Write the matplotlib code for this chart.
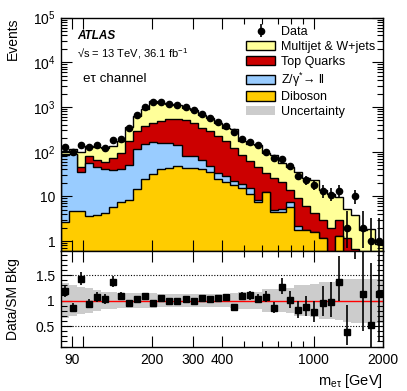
import math
import numpy as np
import matplotlib
matplotlib.use('Agg')
import matplotlib.pyplot as plt
from matplotlib.ticker import FixedLocator, FixedFormatter, NullFormatter

plt.rcParams['font.family'] = ['Liberation Sans', 'DejaVu Sans']
plt.rcParams['mathtext.fontset'] = 'custom'
plt.rcParams['mathtext.rm'] = 'Liberation Sans'
plt.rcParams['mathtext.it'] = 'Liberation Sans:italic'
plt.rcParams['mathtext.bf'] = 'Liberation Sans:bold'

# 40 log bins in m_etau [GeV]
edges = np.logspace(np.log10(80), np.log10(2000), 41)

data = [125, 100, 142, 128, 138, 124, 183, 190, 341, 650,
        990, 1270, 1290, 1190, 1110, 1000, 840, 690, 572, 460,
        370, 278, 190, 162, 144, 100, 72, 70, 47, 29,
        23, 18, 13, 11, 13, 2, 10, 2, 1, 1]

diboson = [2.7, 4.6, 4.8, 3.7, 3.8, 4.2, 5.9, 7.4, 8.5, 15,
           25, 31, 41, 44, 47, 43, 43, 40, 35, 25,
           21, 18, 15.3, 11.2, 7.4, 12.8, 4.5, 4.5, 5.8, 1.8,
           1.8, 1.6, 1.2, 0, 1.3, 0, 0, 0, 0, 0]
zll = [83.3, 83.4, 31.2, 52.3, 42.2, 37.8, 32.1, 34.6, 42.5, 100,
       125, 132, 119, 114, 93, 36, 36, 24, 14, 8,
       7, 4.6, 3.7, 4.3, 1.1, 0, 0.5, 0.7, 1.7, 0.4,
       0, 0, 0, 0, 0, 0, 0, 0, 0, 0]
top = [2, 2, 10, 23, 20, 18, 35, 52, 121, 172,
       222, 277, 330, 372, 400, 421, 366, 279, 238, 189,
       143, 99.4, 67, 45.5, 36.5, 21.2, 21, 16.3, 6.7, 7.1,
       4.2, 2.7, 1.8, 2.0, 1.7, 1.18, 0.65, 0, 0, 0]
multijet = [18, 26, 54, 57, 63, 60, 61, 82, 183, 344,
            536, 897, 739, 660, 570, 471, 395, 314, 268, 220,
            172, 198, 88, 86, 95, 59, 58, 33.5, 32.3, 26.7,
            20.4, 19.1, 10.7, 9.3, 6.5, 3.92, 3.15, 1.77, 1.9, 0.88]
# relative background uncertainty
bkg_unc = [0.34, 0.31, 0.27, 0.24, 0.20, 0.17, 0.16, 0.15, 0.14, 0.14,
           0.14, 0.14, 0.13, 0.12, 0.12, 0.12, 0.12, 0.12, 0.12, 0.13,
           0.13, 0.15, 0.16, 0.16, 0.17, 0.22, 0.22, 0.22, 0.24, 0.30,
           0.30, 0.32, 0.36, 0.36, 0.38, 0.42, 0.43, 0.43, 0.43, 0.43]

labels = ['Diboson', 'Z/γ$^{*}$→ ll', 'Top Quarks', 'Multijet & W+jets']
colors = ['#ffcc00', '#99ccff', '#cc0000', '#ffff99']


def pois_cdf(k, mu):
    return sum(math.exp(-mu + i * math.log(mu) - math.lgamma(i + 1)) for i in range(k + 1))


def solve(f, target, lo, hi):
    # f decreasing in mu
    for _ in range(80):
        mid = 0.5 * (lo + hi)
        if f(mid) > target:
            lo = mid
        else:
            hi = mid
    return 0.5 * (lo + hi)


def garwood(n):
    a = 0.158655
    up = solve(lambda m: pois_cdf(n, m), a, 1e-6, n + 10 * math.sqrt(n + 1) + 10)
    if n == 0:
        return 0.0, up
    lo = solve(lambda m: pois_cdf(n - 1, m), 1 - a, 1e-6, n + 10)
    return n - lo, up - n


stack = np.cumsum([diboson, zll, top, multijet], axis=0)
total = stack[-1]
d = np.array(data, dtype=float)
centers = np.sqrt(edges[:-1] * edges[1:])
errs = np.array([garwood(int(n)) for n in data]).T

fig = plt.figure(figsize=(4.07, 3.91), dpi=100)
ax = fig.add_axes([0.149, 0.358, 0.792, 0.597])
rax = fig.add_axes([0.149, 0.1125, 0.792, 0.2455])

for i in range(3, -1, -1):
    ax.stairs(np.maximum(stack[i], 1e-3), edges, baseline=1e-3, fill=True,
              facecolor=colors[i], edgecolor='k', lw=1.0, label=labels[i])
hdata = ax.errorbar(centers, d, yerr=errs, fmt='o', color='k', ms=4.5,
                    elinewidth=1.2, capsize=0, label='Data')
ax.fill_between([], [], color='#cccccc', lw=0, label='Uncertainty')

ax.set_xscale('log')
ax.set_yscale('log')
ax.set_xlim(80, 2000)
ax.set_ylim(0.6, 1e5)
ax.set_ylabel('Events', fontsize=10, loc='top')
ax.yaxis.set_label_coords(-0.125, 1.0)
ax.set_yticks([1, 10, 100, 1e3, 1e4, 1e5])
ax.set_yticklabels(['1', '10', '$10^{2}$', '$10^{3}$', '$10^{4}$', '$10^{5}$'], fontsize=10)

h, l = ax.get_legend_handles_labels()
order = [l.index(x) for x in ['Data', 'Multijet & W+jets', 'Top Quarks', labels[1], 'Diboson', 'Uncertainty']]
ax.legend([h[k] for k in order], [l[k] for k in order], loc='upper left',
          bbox_to_anchor=(0.56, 0.985), frameon=False, fontsize=9,
          handlelength=2.3, handleheight=0.75, labelspacing=0.22, handletextpad=0.5,
          borderaxespad=0)

ax.text(0.05, 0.92, 'ATLAS', transform=ax.transAxes, fontsize=8.5,
        fontweight='bold', fontstyle='italic', va='center')
ax.text(0.05, 0.845, '√s = 13 TeV, 36.1 fb$^{-1}$', transform=ax.transAxes,
        fontsize=8, va='center')
ax.text(0.07, 0.735, 'eτ channel', transform=ax.transAxes, fontsize=9.6, va='center')

# ratio panel
ratio = d / total
rerr = errs / total
rax.stairs(1 + np.array(bkg_unc), edges, baseline=1 - np.array(bkg_unc), fill=True,
           color='#cccccc', lw=0)
rax.axhline(1, color='red', lw=1.0)
for yv in (0.5, 1.5):
    rax.axhline(yv, color='k', ls=(0, (1, 1.5)), lw=0.8)
rax.errorbar(centers, ratio, yerr=rerr, fmt='s', color='k', ms=3.8,
             elinewidth=1.2, capsize=0)
rax.set_xscale('log')
rax.set_xlim(80, 2000)
rax.set_ylim(0.09, 1.97)
rax.set_yticks([0.5, 1, 1.5])
rax.set_yticklabels(['0.5', '1', '1.5'], fontsize=10)
rax.yaxis.set_minor_locator(FixedLocator(np.arange(0.1, 2.0, 0.1)))
rax.set_ylabel('Data/SM Bkg', fontsize=10)
rax.yaxis.set_label_coords(-0.125, 0.5)
rax.set_xlabel(r'm$_{\mathrm{e\tau}}$ [GeV]', fontsize=10.5, loc='right')

xmaj = [90, 100, 200, 300, 400, 1000, 2000]
xlab = ['90', '', '200', '300', '400', '1000', '2000']
xmin = [500, 600, 700, 800, 900]
for a in (ax, rax):
    a.xaxis.set_major_locator(FixedLocator(xmaj))
    a.xaxis.set_minor_locator(FixedLocator(xmin))
    a.tick_params(which='both', direction='in', top=True, right=True, width=0.8)
    a.tick_params(which='major', length=8)
    a.tick_params(which='minor', length=4.5)
    for s in a.spines.values():
        s.set_linewidth(1.0)
ax.xaxis.set_major_formatter(NullFormatter())
ax.xaxis.set_minor_formatter(NullFormatter())
rax.xaxis.set_major_formatter(FixedFormatter(xlab))
rax.xaxis.set_minor_formatter(NullFormatter())
rax.tick_params(axis='x', labelsize=10, pad=4)
rax.tick_params(axis='y', pad=4)

fig.savefig('out.png', dpi=100)
